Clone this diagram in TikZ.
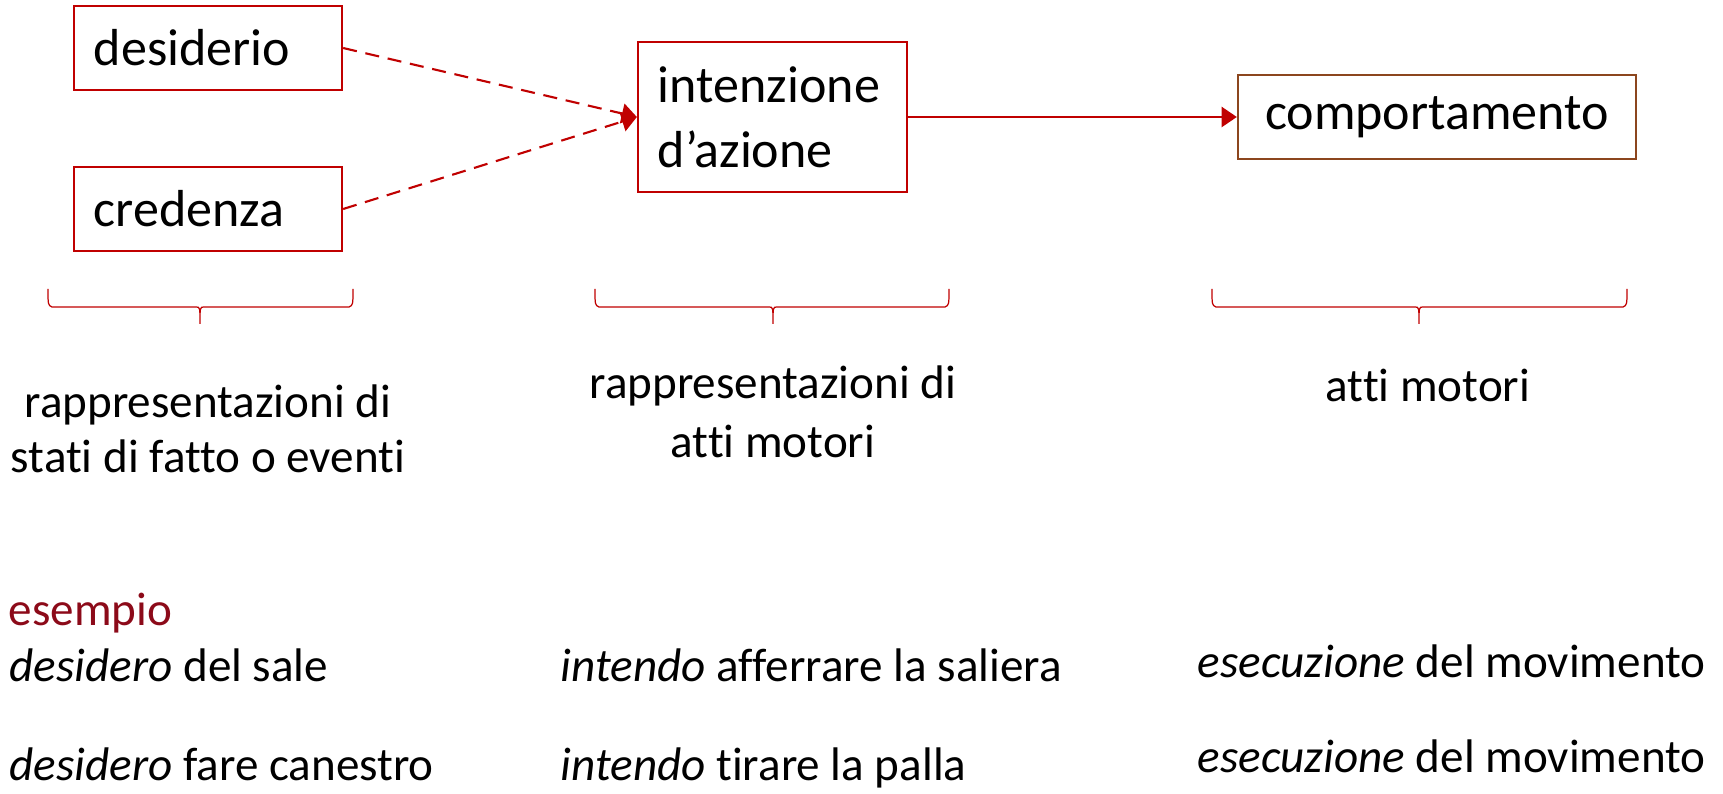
\documentclass[tikz,border=0pt]{standalone}
\usepackage{fontspec}
\setmainfont{Carlito}[Ligatures=NoCommon]
\usepackage{xcolor}
\usetikzlibrary{arrows.meta}

\definecolor{boxred}{RGB}{192,0,0}
\definecolor{boxbrown}{RGB}{140,70,30}
\definecolor{esred}{RGB}{140,10,25}
\newcommand{\bigfont}{\fontsize{14.8}{18.5}\selectfont}
\newcommand{\smallfont}{\fontsize{13.4}{16}\selectfont}
% office-like brace, pointing down
\newcommand{\curlyunder}[3]{%
  \draw[bracered] (#1,289) .. controls (#1,305) .. (#1+4,307) -- (#2-4,307)
    .. controls (#2,307) .. (#2,324) .. controls (#2,307) .. (#2+4,307)
    -- (#3-4,307) .. controls (#3,305) .. (#3,289);}

\begin{document}
\begin{tikzpicture}[x=0.01cm,y=-0.01cm,
  box/.style={draw=boxred,line width=0.6pt,inner xsep=0.2cm,inner ysep=0pt,
    minimum height=0.84cm,align=left,font=\bigfont},
  darrow/.style={draw=boxred,line width=0.6pt,dash pattern=on 4pt off 2.5pt,
    -{Triangle[length=4.3pt,width=5.7pt]}},
  sarrow/.style={draw=boxred,line width=0.6pt,-{Triangle[length=4.3pt,width=5.7pt]}},
  bracered/.style={draw=boxred,line width=0.35pt},
  caption/.style={align=center,font=\smallfont,anchor=base,inner sep=0pt},
  example/.style={anchor=base west,font=\smallfont,inner sep=0pt}]
\useasboundingbox (0,0) rectangle (1723,794);

\node[box,text width=2.28cm] (desiderio) at (208,48) {desiderio};
\node[box,text width=2.28cm] (credenza) at (208,209) {credenza};
\node[box,text width=2.29cm,minimum height=1.5cm] (intenzione) at (772.5,117)
  {intenzione\\d’azione};
\node[box,draw=boxbrown,text width=3.58cm,align=center] (comportamento) at (1437,117)
  {comportamento};

\draw[darrow] (desiderio.east) -- (intenzione.west);
\draw[darrow] (credenza.east) -- (intenzione.west);
\draw[sarrow] (intenzione.east) -- (comportamento.west);

\curlyunder{48}{200}{353}
\curlyunder{595}{773}{949}
\curlyunder{1212}{1419}{1627}

% base anchor sits on the last line
\node[caption] (cap1) at (208,472) {rappresentazioni di\\[-0.6pt]stati di fatto o eventi};
\node[caption] (cap2) at (773,458) {rappresentazioni di\\[0.8pt]atti motori};
\node[caption] (cap3) at (1428,402) {atti motori};

\node[example,text=esred] (esempio) at (8,626) {esempio};
\node[example] (ex11) at (9,681) {\textit{desidero} del sale};
\node[example] (ex12) at (9,780) {\textit{desidero} fare canestro};
\node[example] (ex21) at (560,681) {\textit{intendo} afferrare la saliera};
\node[example] (ex22) at (560,781) {\textit{intendo} tirare la palla};
\node[example] (ex31) at (1197,677) {\textit{esecuzione} del movimento};
\node[example] (ex32) at (1197,772) {\textit{esecuzione} del movimento};
\end{tikzpicture}
\end{document}
